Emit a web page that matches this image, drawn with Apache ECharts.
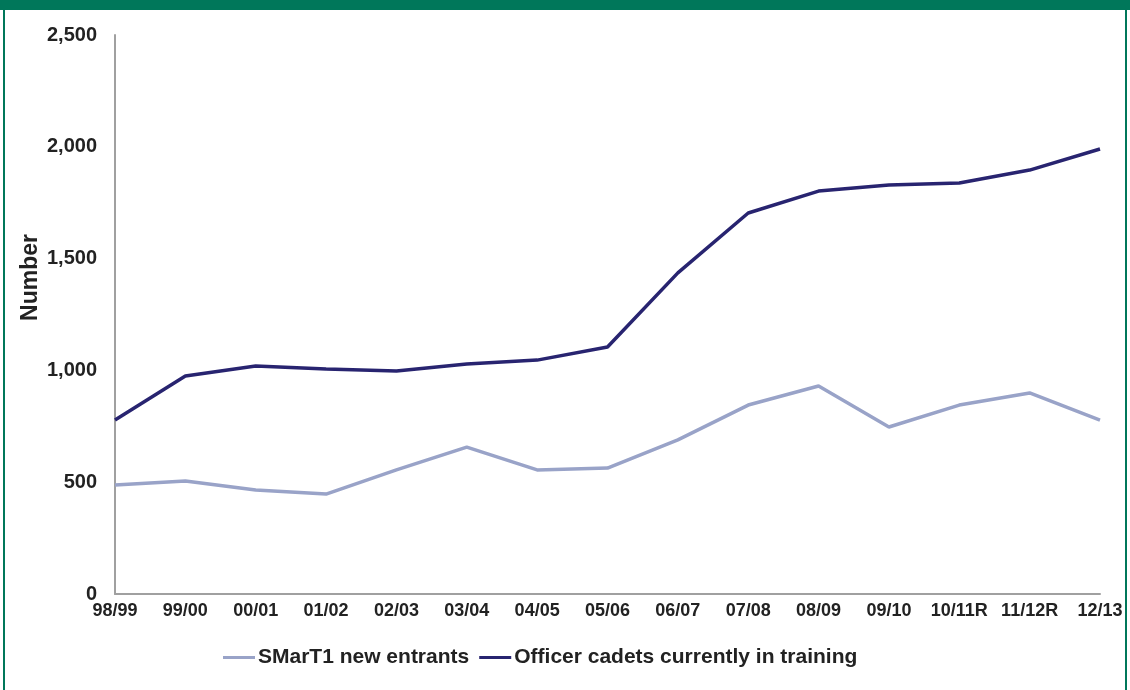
<!DOCTYPE html>
<html>
<head>
<meta charset="utf-8">
<script src="https://cdn.jsdelivr.net/npm/echarts@6/dist/echarts.min.js"></script>
<style>
  html, body { margin: 0; padding: 0; background: #fff; }
  #frame { position: absolute; left: 3px; top: 0; width: 1124px; height: 690px; box-sizing: border-box;
           border-left: 2px solid #00775a; border-right: 2px solid #00775a; }
  #topbar { position: absolute; left: 0; top: 0; width: 1130px; height: 10px; background: #00775a; }
  #chart { position: absolute; left: 0; top: 0; width: 1130px; height: 690px; }
</style>
</head>
<body>
<div id="frame"></div>
<div id="topbar"></div>
<div id="chart"></div>
<script>
// Financial years shown on the category axis
const years = ['98/99','99/00','00/01','01/02','02/03','03/04','04/05','05/06','06/07','07/08','08/09','09/10','10/11R','11/12R','12/13'];
// SMarT1 new entrants per year
const smart1 = [487, 505, 465, 447, 555, 657, 555, 563, 689, 845, 930, 747, 845, 899, 778];
// Officer cadets currently in training per year
const cadets = [778, 975, 1020, 1006, 997, 1029, 1046, 1105, 1436, 1704, 1802, 1829, 1838, 1896, 1990];

const font = '"Liberation Sans", Arial, sans-serif';
const chart = echarts.init(document.getElementById('chart'));
chart.setOption({
  animation: false,
  grid: { left: 115, right: 30, top: 35, bottom: 96 },
  legend: {
    top: 642, left: 218, itemWidth: 32, itemHeight: 3, itemGap: 10,
    icon: 'rect',
    textStyle: { fontFamily: font, fontWeight: 'bold', fontSize: 21, color: '#222', padding: [0, 0, 0, -2] },
    data: ['SMarT1 new entrants', 'Officer cadets currently in training']
  },
  xAxis: {
    type: 'category', data: years, boundaryGap: false,
    axisLine: { lineStyle: { color: '#a0a0a0', width: 2 } },
    axisTick: { show: false },
    axisLabel: { fontFamily: font, fontWeight: 'bold', fontSize: 18, color: '#222', margin: 8, interval: 0 }
  },
  yAxis: {
    type: 'value', min: 0, max: 2500, interval: 500,
    name: 'Number', nameLocation: 'middle', nameGap: 73, nameRotate: 90, nameMoveOverlap: false,
    nameTextStyle: { fontFamily: font, fontWeight: 'bold', fontSize: 23, color: '#222', padding: [0, 0, 0, 74] },
    axisLine: { show: true, lineStyle: { color: '#a0a0a0', width: 2 } },
    axisTick: { show: false },
    splitLine: { show: false },
    axisLabel: { fontFamily: font, fontWeight: 'bold', fontSize: 20, color: '#222', margin: 18,
      formatter: v => v.toLocaleString('en-US') }
  },
  series: [
    { name: 'SMarT1 new entrants', type: 'line', data: smart1, symbol: 'none',
      lineStyle: { color: '#99a3c8', width: 3.5 }, itemStyle: { color: '#99a3c8' } },
    { name: 'Officer cadets currently in training', type: 'line', data: cadets, symbol: 'none',
      lineStyle: { color: '#282470', width: 3.5 }, itemStyle: { color: '#282470' } }
  ]
});
</script>
</body>
</html>
